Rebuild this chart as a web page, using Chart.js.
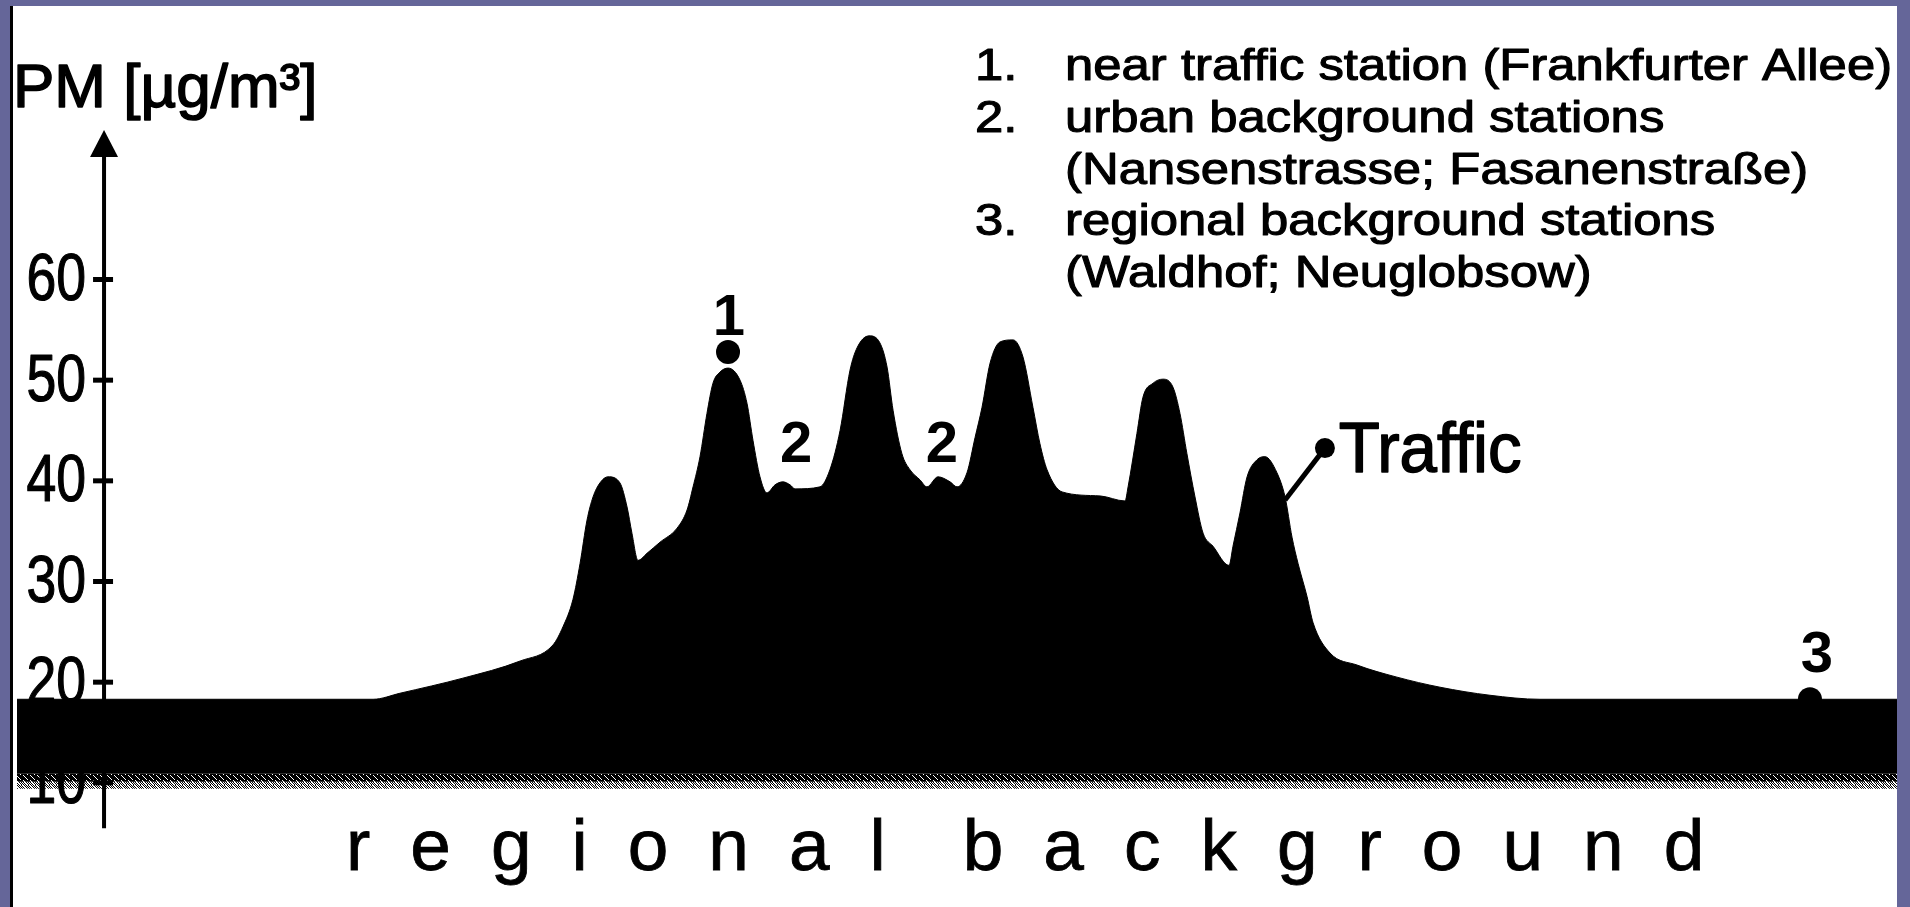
<!DOCTYPE html>
<html><head><meta charset="utf-8">
<script src="https://cdn.jsdelivr.net/npm/chart.js@4.4.1/dist/chart.umd.min.js"></script>
<style>html,body{margin:0;padding:0;background:#fff;overflow:hidden}canvas{display:block}</style>
</head><body>
<canvas id="c" width="1910" height="907"></canvas>
<script>
// ---- data (distance along the west–east transect, arbitrary units 0–100) ----
const distance = [0,18.94,20.37,23.72,26.76,28.51,29.04,29.57,29.95,30.32,30.64,31.01,31.44,32.07,32.45,32.71,33.03,33.51,34.20,35.11,35.64,35.96,36.33,36.70,37.02,37.39,37.82,38.46,38.83,39.15,39.52,39.89,40.32,40.74,41.12,41.38,42.71,43.24,43.78,44.31,44.68,45.32,45.90,46.28,46.60,47.07,47.50,48.03,48.40,48.99,49.63,50.00,50.53,50.96,51.33,51.76,52.29,52.98,53.51,54.04,54.41,54.79,55.59,57.61,58.94,59.10,59.57,59.89,60.43,60.96,61.49,61.86,62.23,62.66,63.09,63.62,64.47,64.68,65.05,65.43,65.96,66.38,67.02,67.45,67.82,68.14,68.62,68.94,69.84,71.28,73.40,75.69,78.35,81.01,100];
const pm = [18.3,18.3,18.9,20.4,22.1,23.7,25.5,28.2,31.8,36.1,38.4,39.8,40.4,39.8,37.4,34.8,32.1,32.8,33.9,35.3,37.1,39.4,42.4,46.7,49.7,50.8,51.2,50.0,47.7,44.0,40.4,38.8,39.6,39.9,39.6,39.2,39.4,41.1,45.0,51.0,53.2,54.4,53.7,51.3,47.0,42.7,41.1,40.1,39.4,40.4,39.9,39.4,40.8,44.3,47.3,51.7,53.8,54.0,52.3,47.3,43.7,41.1,38.9,38.5,38.0,39.4,44.7,48.3,49.7,50.1,49.3,46.7,42.7,38.4,34.8,33.5,31.6,33.5,36.8,40.4,42.1,42.4,40.8,38.4,34.4,31.8,28.5,25.9,22.9,21.7,20.5,19.5,18.7,18.3,18.3];
const yTicks = [10,20,30,40,50,60];
const bandLevels = [10.9, 10.1, 9.4];   // solid band edge, dense noise edge, sparse noise edge
const axisTitle = 'PM [µg/m³]';
const legendNumbers = ['1.','2.','','3.',''];
const legendLines = ['near traffic station (Frankfurter Allee)','urban background stations','(Nansenstrasse; Fasanenstraße)','regional background stations','(Waldhof; Neuglobsow)'];
const stationLabels = ['1','2','2','3'];
const stationLabelX = [37.87,41.44,49.2,95.74];
const stationLabelY = [54.5,41.85,41.85,21.0];
const markerX = [37.82,95.37];
const markerY = [52.8,18.3];
const pointerX = [67.45,69.57];
const pointerY = [38.1,43.25];
const trafficLabel = 'Traffic';
const trafficLabelX = 70.3, trafficLabelY = 40.9;
const bottomWords = ['regional','background'];
const yAxisAt = 4.63;

// ---- helpers ----
function txt(ctx, s, x, y, size, o) {
  o = o || {};
  ctx.save();
  ctx.font = (o.bold ? 'bold ' : '') + size + 'px "' + (o.family || 'Liberation Sans') + '"';
  ctx.textBaseline = o.baseline || 'alphabetic';
  ctx.textAlign = o.align || 'left';
  ctx.translate(x, y);
  ctx.scale(o.sx || 1, 1);
  ctx.fillStyle = '#000';
  ctx.fillText(s, 0, 0);
  if (o.stroke) { ctx.lineWidth = o.stroke; ctx.strokeStyle = '#000'; ctx.lineJoin = 'round'; ctx.strokeText(s, 0, 0); }
  ctx.restore();
}
function noisePattern(keep) {
  const c = document.createElement('canvas'); c.width = 7; c.height = 5;
  const g = c.getContext('2d'); g.fillStyle = '#000';
  for (let i = 0; i < 7; i++) for (let j = 0; j < 5; j++) if (((i * 3 + j * 4) % 7) < keep) g.fillRect(i, j, 1, 1);
  return g.createPattern(c, 'repeat');
}

const framePlugin = {
  id: 'frame',
  beforeDraw(chart) {
    const ctx = chart.ctx, W = chart.width, H = chart.height;
    ctx.save();
    ctx.fillStyle = '#fff'; ctx.fillRect(0, 0, W, H);
    ctx.fillStyle = '#656699';
    ctx.fillRect(0, 0, W, 6); ctx.fillRect(0, 0, 10, H); ctx.fillRect(W - 13, 0, 13, H);
    ctx.fillStyle = '#000'; ctx.fillRect(10, 6, 3, H - 6);
    ctx.restore();
  },
  beforeDatasetsDraw(chart) {
    const ctx = chart.ctx, xs = chart.scales.x, ys = chart.scales.y;
    const ax = xs.getPixelForValue(yAxisAt);
    const top = chart.chartArea.top + 1.5;
    ctx.save();
    ctx.strokeStyle = '#000'; ctx.fillStyle = '#000';
    ctx.lineWidth = 4;
    ctx.beginPath(); ctx.moveTo(ax, top + 20); ctx.lineTo(ax, ys.getPixelForValue(5.5)); ctx.stroke();
    ctx.beginPath(); ctx.moveTo(ax, top); ctx.lineTo(ax - 14, top + 27); ctx.lineTo(ax + 14, top + 27); ctx.closePath(); ctx.fill();
    ctx.lineWidth = 5;
    ys.ticks.forEach(t => {
      const py = ys.getPixelForValue(t.value);
      ctx.beginPath(); ctx.moveTo(ax - 11, py); ctx.lineTo(ax + 9, py); ctx.stroke();
      txt(ctx, String(t.value), ax - 18, py + 2, 67, {sx: 0.8, align: 'right', baseline: 'middle', stroke: 1.2});
    });
    ctx.restore();
    txt(ctx, axisTitle, 13, 107, 62, {stroke: 1.5});
  },
  afterDraw(chart) {
    const ctx = chart.ctx, xs = chart.scales.x, ys = chart.scales.y;
    legendLines.forEach((l, i) => {
      const by = 80 + i * 51.8;
      if (legendNumbers[i]) txt(ctx, legendNumbers[i], 975, by, 45, {sx: 1.13, stroke: 1.1});
      txt(ctx, l, 1065, by, 45, {sx: 1.13, stroke: 1.1});
    });
    stationLabels.forEach((s, i) => txt(ctx, s, xs.getPixelForValue(stationLabelX[i]), ys.getPixelForValue(stationLabelY[i]), 58, {bold: true, align: 'center'}));
    txt(ctx, trafficLabel, xs.getPixelForValue(trafficLabelX), ys.getPixelForValue(trafficLabelY), 70, {sx: 0.96, stroke: 1.5});
    ctx.save();
    ctx.font = '73px "Liberation Sans"'; ctx.fillStyle = '#000'; ctx.textBaseline = 'alphabetic';
    ctx.strokeStyle = '#000'; ctx.lineWidth = 0.8;
    let x = 346;
    bottomWords.forEach((w, wi) => {
      if (wi) x += 37;
      for (const ch of w) { ctx.fillText(ch, x, 870); ctx.strokeText(ch, x, 870); x += ctx.measureText(ch).width + 40; }
    });
    ctx.restore();
  }
};

const curve = distance.map((d, i) => ({x: d, y: pm[i]}));
const flat = lvl => [{x: distance[0], y: lvl}, {x: distance[distance.length - 1], y: lvl}];

new Chart(document.getElementById('c'), {
  type: 'line',
  data: {
    datasets: [
      { data: markerX.map((v, i) => ({x: v, y: markerY[i]})), showLine: false, pointRadius: 12, pointBackgroundColor: '#000', pointBorderWidth: 0 },
      { data: pointerX.map((v, i) => ({x: v, y: pointerY[i]})), borderColor: '#000', borderWidth: 5, pointRadius: [0, 10], pointBackgroundColor: '#000', pointBorderWidth: 0, fill: false },
      { data: curve, borderColor: '#000', borderWidth: 1, backgroundColor: '#000', fill: {value: bandLevels[0]}, pointRadius: 0, cubicInterpolationMode: 'monotone' },
      { data: flat(bandLevels[0]), borderWidth: 0, backgroundColor: noisePattern(6), fill: {value: bandLevels[1]}, pointRadius: 0 },
      { data: flat(bandLevels[1]), borderWidth: 0, backgroundColor: noisePattern(3), fill: {value: bandLevels[2]}, pointRadius: 0 }
    ]
  },
  options: {
    responsive: false, animation: false, devicePixelRatio: 1, events: [],
    layout: { padding: { left: 17, right: 13, top: 128.5, bottom: 23.5 } },
    plugins: { legend: { display: false }, tooltip: { enabled: false } },
    scales: {
      x: { type: 'linear', min: 0, max: 100, display: false },
      y: {
        type: 'linear', min: 0, max: 75, position: { x: yAxisAt },
        afterBuildTicks: s => { s.ticks = yTicks.map(v => ({value: v})); },
        afterFit: s => { s.paddingTop = 0; s.paddingBottom = 0; },
        grid: { display: false, drawTicks: false, tickLength: 0 },
        border: { display: false },
        ticks: { display: false }
      }
    }
  },
  plugins: [framePlugin]
});
</script>
</body></html>
